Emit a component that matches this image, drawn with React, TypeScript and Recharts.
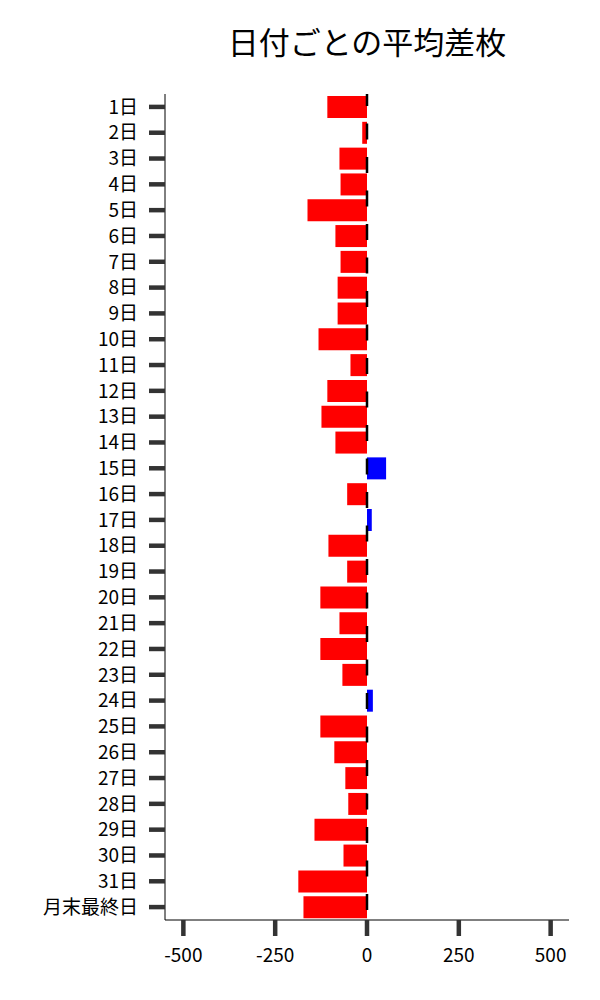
import React from "react"
import { BarChart, Bar, XAxis, YAxis, Cell, ReferenceLine } from "recharts"

const days = [
  "1日", "2日", "3日", "4日", "5日", "6日", "7日", "8日", "9日", "10日",
  "11日", "12日", "13日", "14日", "15日", "16日", "17日", "18日", "19日", "20日",
  "21日", "22日", "23日", "24日", "25日", "26日", "27日", "28日", "29日", "30日",
  "31日", "月末最終日",
]

const avgDiff = [
  -108, -13, -75, -72, -162, -86, -72, -80, -80, -132,
  -45, -108, -124, -86, 52, -54, 13, -105, -54, -127,
  -75, -127, -67, 16, -127, -89, -59, -51, -143, -64,
  -187, -173,
]

const xTicks = [-500, -250, 0, 250, 500]

const data = days.map((day, i) => ({ day, value: avgDiff[i] }))

const FONT = "'Noto Sans CJK JP', 'Noto Sans', sans-serif"

export default function App() {
  return (
    <div style={{ position: "absolute", left: 0, top: 0, width: 600, height: 1000, background: "#fff", fontFamily: FONT }}>
      <div
        style={{
          position: "absolute",
          left: 165,
          width: 404,
          top: 20,
          textAlign: "center",
          fontSize: 31,
          lineHeight: "42px",
          color: "#000",
        }}
      >
        日付ごとの平均差枚
      </div>
      <BarChart
        width={600}
        height={1000}
        data={data}
        layout="vertical"
        margin={{ top: 94, right: 31, bottom: 0, left: 0 }}
        barCategoryGap={2}
      >
        <XAxis
          type="number"
          domain={[-550, 550]}
          ticks={xTicks}
          height={80}
          axisLine={{ stroke: "#000", strokeWidth: 1 }}
          tickLine={{ stroke: "#333", strokeWidth: 4.5 }}
          tickSize={16}
          tickMargin={13}
          tick={{ fill: "#000", fontSize: 19, fontFamily: FONT }}
        />
        <YAxis
          type="category"
          dataKey="day"
          width={165}
          interval={0}
          axisLine={{ stroke: "#000", strokeWidth: 1 }}
          tickLine={{ stroke: "#333", strokeWidth: 4.5 }}
          tickSize={16}
          tickMargin={11}
          tick={{ fill: "#000", fontSize: 19, fontFamily: FONT }}
        />
        <Bar dataKey="value" isAnimationActive={false}>
          {data.map((d, i) => (
            <Cell key={i} fill={d.value < 0 ? "#ff0000" : "#0000ff"} />
          ))}
        </Bar>
        <ReferenceLine
          x={0}
          stroke="#000"
          strokeWidth={2.5}
          strokeDasharray="16 17.5"
          strokeDashoffset={23.5}
        />
      </BarChart>
    </div>
  )
}
